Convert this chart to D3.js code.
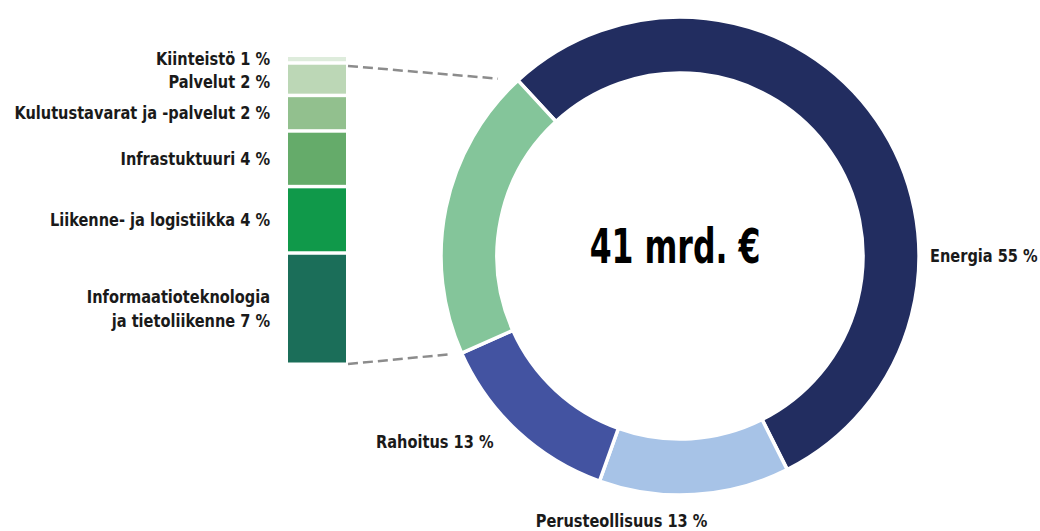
<!DOCTYPE html>
<html>
<head>
<meta charset="utf-8">
<script src="https://cdn.jsdelivr.net/npm/d3@7"></script>
<style>
  body { margin: 0; background: #fff; }
  text { font-family: "DejaVu Sans Condensed", "DejaVu Sans", sans-serif; font-weight: bold; fill: #1a1a1a; }
</style>
</head>
<body>
<div id="chart-area"></div>
<script>
// Sectors of the donut (last one is broken down in the stacked bar)
const sectors = ['Energia', 'Perusteollisuus', 'Rahoitus', 'Muut'];
const sectorShares = [55, 13, 13];
const sectorLabels = ['Energia 55 %', 'Perusteollisuus 13 %', 'Rahoitus 13 %', ''];
const sectorColors = ['#222d60', '#a7c3e7', '#4353a1', '#84c59a'];

// Breakdown of the "other" slice
const otherNames = ['Kiinteistö', 'Palvelut', 'Kulutustavarat ja -palvelut', 'Infrastuktuuri',
  'Liikenne- ja logistiikka', 'Informaatioteknologia\nja tietoliikenne'];
const otherShares = [0.5, 2.1, 2.3, 3.6, 4.3, 7.2];
const otherLabels = ['1 %', '2 %', '2 %', '4 %', '4 %', '7 %'];
const otherColors = ['#deecdc', '#bcd7b6', '#92c08e', '#65ab6a', '#10994a', '#1b6e59'];

const totalLabel = '41 mrd. €';

// Layout
const width = 1040, height = 531;
const cx = 680, cy = 256;
const rOuter = 239, rInner = 183;
const startDeg = -42.7;
const bar = { x: 288, w: 58, top: 57, bottom: 366, gap: 3.5 };
const squeeze = 0.9;     // condensed look for labels
const fontSize = 18;

const svg = d3.select('#chart-area')
    .append('svg')
    .attr('width', width)
    .attr('height', height);

// Text helper: horizontally condensed label
const addText = (parent, x, y, str, anchor, size, k) => {
    const t = parent.append('g')
        .attr('transform', `translate(${x},${y}) scale(${k},1)`)
        .append('text')
        .attr('text-anchor', anchor)
        .attr('font-size', size + 'px');
    const lines = str.split('\n');
    lines.forEach((ln, j) => {
        t.append('tspan')
            .attr('x', 0)
            .attr('y', (j - (lines.length - 1) / 2) * 24)
            .text(ln);
    });
    return t;
};

// Donut data
const otherTotal = d3.sum(otherShares);
const donutData = sectors.map((s, i) => ({
    name: s,
    value: i < 3 ? sectorShares[i] : otherTotal,
    label: sectorLabels[i],
    color: sectorColors[i]
}));

const startA = startDeg * Math.PI / 180;
const pie = d3.pie()
    .sort(null)
    .value(d => d.value)
    .startAngle(startA)
    .endAngle(startA + 2 * Math.PI);

const arc = d3.arc().innerRadius(rInner).outerRadius(rOuter);
const arcs = pie(donutData);

const g = svg.append('g').attr('transform', `translate(${cx},${cy})`);

g.selectAll('path')
    .data(arcs)
    .enter()
    .append('path')
    .attr('d', arc)
    .attr('fill', d => d.data.color)
    .attr('stroke', '#fff')
    .attr('stroke-width', 3.5);

// Centre text
addText(g, -5, 7, totalLabel, 'middle', 48, 0.73).style('fill', '#000');

// Slice labels
const polar = (a, r) => [Math.sin(a) * r, -Math.cos(a) * r];
const mid = d => (d.startAngle + d.endAngle) / 2;

// Energia: right side
addText(g, rOuter + 11, 6, arcs[0].data.label, 'start', fontSize, squeeze);

// Perusteollisuus: below
{
    const p = polar(mid(arcs[1]), rOuter);
    addText(g, p[0] - 73, p[1] + 32, arcs[1].data.label, 'middle', fontSize, squeeze);
}

// Rahoitus: lower left
{
    const p = polar(mid(arcs[2]), rOuter);
    addText(g, p[0] - 24, p[1] + 17, arcs[2].data.label, 'end', fontSize, squeeze);
}

// Stacked bar of "other"
const y = d3.scaleLinear()
    .domain([0, otherTotal])
    .range([bar.top, bar.bottom]);

let cum = 0;
const stack = otherShares.map((v, i) => {
    const s = { y0: cum, y1: cum + v, name: otherNames[i], label: otherLabels[i], color: otherColors[i] };
    cum += v;
    return s;
});

svg.selectAll('rect.seg')
    .data(stack)
    .enter()
    .append('rect')
    .attr('class', 'seg')
    .attr('x', bar.x)
    .attr('width', bar.w)
    .attr('y', d => y(d.y0))
    .attr('height', d => y(d.y1) - y(d.y0) - bar.gap)
    .attr('fill', d => d.color);

// Bar labels, right-aligned left of the bar
stack.forEach((d, i) => {
    const c = (y(d.y0) + y(d.y1) - bar.gap) / 2;
    const yMid = i === 1 ? c + 3 : c;
    addText(svg, bar.x - 18, yMid + 6, d.name + ' ' + d.label, 'end', fontSize, squeeze);
});

// Dashed connector lines
const corner = a => [cx + Math.sin(a) * rOuter, cy - Math.cos(a) * rOuter];
const connectors = [
    { from: [bar.x + bar.w + 2, bar.top + 9], to: corner(arcs[3].endAngle), short: 20 },
    { from: [bar.x + bar.w + 2, bar.bottom - 2], to: corner(arcs[3].startAngle), short: 11 }
];
connectors.forEach(c => {
    const dx = c.to[0] - c.from[0], dy = c.to[1] - c.from[1];
    const len = Math.sqrt(dx * dx + dy * dy);
    const k = (len - c.short) / len;
    svg.append('line')
        .attr('x1', c.from[0])
        .attr('y1', c.from[1])
        .attr('x2', c.from[0] + dx * k)
        .attr('y2', c.from[1] + dy * k)
        .attr('stroke', '#8c8c8c')
        .attr('stroke-width', 2.5)
        .attr('stroke-dasharray', '10,5');
});
</script>
</body>
</html>
